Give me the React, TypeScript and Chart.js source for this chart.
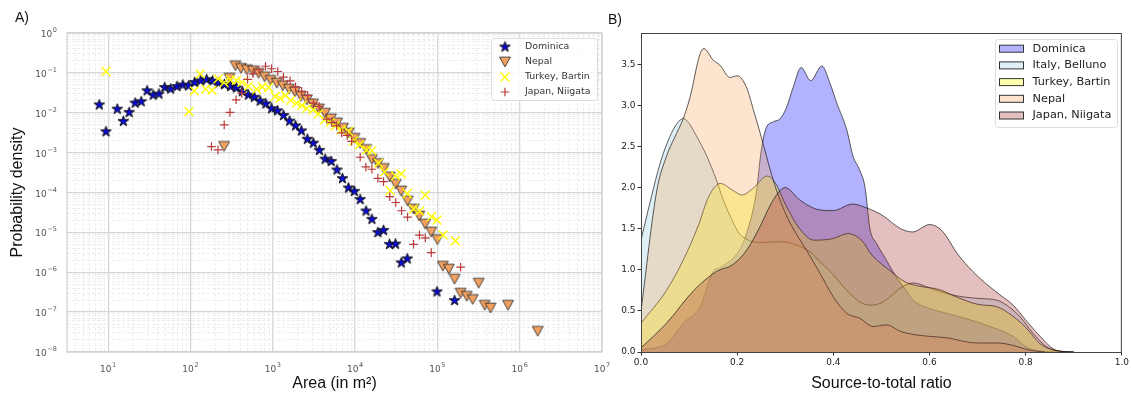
import React, { useEffect, useRef } from 'react';
import { Chart, registerables } from 'chart.js';

Chart.register(...registerables);

// ---------- Panel A: landslide area vs probability density ----------
const dominicaArea = [7.8, 9.4, 12.9, 15.3, 18.0, 21.3, 25.2, 29.7, 35.2, 41.4, 48.7, 57.5, 68.5, 80.6, 95.1, 112.5, 133, 157, 185, 219, 259, 307, 361, 427, 505, 597, 701, 824, 967, 1143, 1352, 1600, 1892, 2228, 2630, 3112, 3681, 4328, 5118, 6022, 7030, 8318, 9795, 11530, 13580, 16000, 18930, 22170, 26220, 31030, 36390, 43050, 98900, 161800];
const dominicaDensity = [0.0158, 0.00335, 0.0123, 0.00608, 0.0102, 0.0175, 0.019, 0.0355, 0.0277, 0.0295, 0.043, 0.0394, 0.0455, 0.0497, 0.0474, 0.0574, 0.0633, 0.0679, 0.0622, 0.0554, 0.0508, 0.0455, 0.0418, 0.0339, 0.0278, 0.0244, 0.0197, 0.0167, 0.0127, 0.0112, 0.00855, 0.00618, 0.00469, 0.00351, 0.00217, 0.00173, 0.00114, 0.000687, 0.000601, 0.000367, 0.000223, 0.00013, 0.000107, 6.67e-5, 3.43e-5, 2.12e-5, 9.9e-6, 1.12e-5, 4.99e-6, 5.08e-6, 1.72e-6, 2.17e-6, 3.22e-7, 1.95e-7];

const nepalArea = [256, 298, 352, 411, 483, 571, 672, 795, 940, 1119, 1324, 1567, 1854, 2193, 2595, 3070, 3632, 4297, 5082, 6012, 7112, 8363, 9834, 11540, 13650, 16010, 18940, 22280, 26350, 31170, 36380, 43420, 51340, 60200, 71200, 84300, 99800, 116400, 137700, 161900, 191500, 226600, 268100, 317000, 375000, 442600, 722800, 1656000];
const nepalDensity = [0.00143, 0.074, 0.151, 0.13, 0.12, 0.113, 0.0977, 0.0798, 0.0652, 0.0554, 0.0474, 0.0392, 0.0335, 0.0258, 0.0211, 0.0167, 0.0125, 0.00977, 0.00703, 0.00557, 0.0041, 0.00313, 0.0023, 0.0017, 0.0012, 0.000675, 0.000535, 0.000401, 0.000245, 0.000162, 0.000109, 6.11e-5, 3.85e-5, 2.57e-5, 1.62e-5, 1.02e-5, 6.59e-6, 1.42e-6, 1.2e-6, 6.71e-7, 2.99e-7, 2.51e-7, 2.07e-7, 5.32e-7, 1.49e-7, 1.27e-7, 1.49e-7, 3.31e-8];

const turkeyArea = [9.38, 95.9, 111.2, 131.5, 153.1, 182.7, 216.2, 255.9, 306.9, 363, 420, 505, 638, 747, 889, 1066, 1227, 1432, 1648, 1950, 2255, 2595, 3093, 3586, 4245, 4979, 5728, 6778, 8318, 9616, 11380, 13840, 16000, 19270, 22800, 26740, 31030, 36390, 43050, 51320, 60720, 71250, 84960, 98880, 117300, 165200];
const turkeyDensity = [0.1097, 0.01072, 0.0355, 0.0938, 0.0394, 0.037, 0.0703, 0.0571, 0.0671, 0.0652, 0.0574, 0.0461, 0.0387, 0.0448, 0.0435, 0.0258, 0.023, 0.0274, 0.0205, 0.0174, 0.0153, 0.0129, 0.0118, 0.00938, 0.00664, 0.00568, 0.00469, 0.00372, 0.00341, 0.00197, 0.00156, 0.00117, 0.00112, 0.000542, 0.000327, 0.000112, 0.00026, 0.000292, 9.44e-5, 3.89e-5, 3.43e-5, 8.55e-5, 2.47e-5, 2.04e-5, 8.65e-6, 6.15e-6];

const japanArea = [180, 216, 257, 302, 358, 420, 494, 575, 681, 817, 966, 1150, 1346, 1624, 1892, 2240, 2649, 3119, 3658, 4538, 5222, 5973, 6873, 8015, 9093, 11540, 13530, 16000, 18930, 22170, 26370, 31200, 36700, 43420, 51340, 60570, 71250, 84330, 191400];
const japanDensity = [0.00142, 0.00117, 0.00497, 0.01023, 0.0211, 0.0307, 0.0691, 0.0949, 0.1197, 0.1466, 0.1268, 0.1084, 0.0784, 0.0633, 0.0448, 0.0345, 0.0274, 0.0174, 0.0145, 0.0069, 0.00567, 0.00469, 0.00313, 0.0027, 0.00191, 0.000766, 0.000437, 0.000383, 0.000227, 0.000187, 7.84e-5, 5.61e-5, 3.49e-5, 2.42e-5, 5.02e-6, 8.55e-6, 7.28e-6, 3.11e-6, 1.34e-6];

// decade exponents labelled on the log axes
const areaExponents = [1, 2, 3, 4, 5, 6, 7];
const densityExponents = [-8, -7, -6, -5, -4, -3, -2, -1, 0];

// ---------- Panel B: kernel density of the source-to-total ratio ----------
const dominicaRatio = [0, 0.03, 0.053, 0.088, 0.123, 0.15, 0.165, 0.2, 0.22, 0.24, 0.25, 0.26, 0.275, 0.29, 0.303, 0.317, 0.333, 0.353, 0.376, 0.393, 0.407, 0.428, 0.441, 0.455, 0.466, 0.476, 0.49, 0.51, 0.53, 0.55, 0.566, 0.6, 0.636, 0.68, 0.726, 0.774, 0.8, 0.83, 0.87];
const dominicaKde = [0.03, 0.05, 0.1, 0.35, 0.55, 0.98, 1.03, 1.2, 1.45, 1.95, 2.45, 2.72, 2.8, 2.84, 2.98, 3.23, 3.46, 3.3, 3.48, 3.27, 3.03, 2.7, 2.38, 2.21, 2.0, 1.5, 1.32, 1.12, 0.92, 0.76, 0.63, 0.53, 0.47, 0.4, 0.31, 0.19, 0.065, 0.01, 0];

const italyRatio = [0, 0.02, 0.04, 0.06, 0.075, 0.088, 0.1, 0.116, 0.137, 0.157, 0.171, 0.192, 0.202, 0.22, 0.247, 0.275, 0.296, 0.324, 0.351, 0.372, 0.4, 0.428, 0.455, 0.476, 0.497, 0.518, 0.538, 0.566, 0.6, 0.636, 0.67, 0.705, 0.74, 0.76, 0.788, 0.815, 0.843, 0.87, 0.9];
const italyKde = [1.36, 1.85, 2.3, 2.62, 2.78, 2.84, 2.78, 2.62, 2.38, 2.09, 1.85, 1.57, 1.46, 1.37, 1.33, 1.34, 1.34, 1.3, 1.22, 1.1, 0.94, 0.75, 0.61, 0.57, 0.59, 0.67, 0.77, 0.84, 0.78, 0.71, 0.67, 0.65, 0.63, 0.57, 0.43, 0.23, 0.065, 0.01, 0];

const turkeyRatio = [0, 0.053, 0.088, 0.12, 0.14, 0.165, 0.19, 0.21, 0.235, 0.262, 0.28, 0.3, 0.33, 0.36, 0.4, 0.43, 0.46, 0.48, 0.52, 0.55, 0.58, 0.62, 0.66, 0.7, 0.74, 0.77, 0.8, 0.83, 0.86, 0.9];
const turkeyKde = [0.35, 0.75, 1.12, 1.55, 1.88, 2.05, 1.97, 1.91, 2.0, 2.14, 2.05, 1.8, 1.5, 1.36, 1.38, 1.44, 1.35, 1.18, 0.98, 0.85, 0.8, 0.76, 0.66, 0.58, 0.55, 0.45, 0.3, 0.1, 0.02, 0];

const nepalRatio = [0, 0.033, 0.053, 0.074, 0.088, 0.102, 0.123, 0.131, 0.15, 0.164, 0.185, 0.2, 0.22, 0.234, 0.248, 0.261, 0.275, 0.289, 0.31, 0.344, 0.372, 0.4, 0.428, 0.455, 0.483, 0.51, 0.54, 0.57, 0.6, 0.64, 0.67, 0.7, 0.74, 0.77, 0.81, 0.84];
const nepalKde = [0.5, 1.97, 2.38, 2.66, 2.84, 3.1, 3.63, 3.69, 3.55, 3.49, 3.34, 3.36, 3.21, 2.94, 2.66, 2.38, 2.09, 1.85, 1.57, 1.24, 0.96, 0.67, 0.47, 0.41, 0.31, 0.33, 0.25, 0.21, 0.19, 0.17, 0.13, 0.11, 0.11, 0.085, 0.02, 0];

const japanRatio = [0, 0.053, 0.11, 0.157, 0.19, 0.22, 0.247, 0.275, 0.3, 0.33, 0.37, 0.4, 0.44, 0.47, 0.5, 0.54, 0.565, 0.6, 0.625, 0.66, 0.69, 0.726, 0.75, 0.774, 0.8, 0.83, 0.857, 0.88, 0.9];
const japanKde = [0.05, 0.35, 0.75, 0.98, 1.06, 1.24, 1.52, 1.85, 2.0, 1.85, 1.73, 1.72, 1.8, 1.75, 1.67, 1.5, 1.46, 1.55, 1.48, 1.18, 0.98, 0.79, 0.68, 0.57, 0.39, 0.19, 0.04, 0.005, 0];

const SANS = '"Liberation Sans", Arial, sans-serif';
const DEJAVU = '"DejaVu Sans", sans-serif';

function isDecade(v: number) {
  const e = Math.log10(v);
  return Math.abs(e - Math.round(e)) < 1e-6;
}

// 1..9 x 10^n between lo and hi, so every minor log line gets a grid line
function logGridTicks(lo: number, hi: number) {
  const out: { value: number }[] = [];
  for (let d = Math.floor(Math.log10(lo)); d <= Math.ceil(Math.log10(hi)); d++) {
    for (let m = 1; m < 10; m++) {
      const v = m * Math.pow(10, d);
      if (v >= lo * 0.9999 && v <= hi * 1.0001) out.push({ value: v });
    }
  }
  return out;
}

// "10" with a raised, smaller exponent; align is the anchor of the whole label
function drawPower(ctx: CanvasRenderingContext2D, x: number, baseline: number, exp: number, align: 'center' | 'right') {
  const base = '10';
  const sup = exp < 0 ? '\u2212' + Math.abs(exp) : String(exp);
  const baseFont = '9px ' + DEJAVU;
  const supFont = '6.5px ' + DEJAVU;
  ctx.font = baseFont;
  const wb = ctx.measureText(base).width;
  ctx.font = supFont;
  const ws = ctx.measureText(sup).width;
  const gap = 0.6;
  const total = wb + gap + ws;
  const left = align === 'center' ? x - total / 2 : x - total;
  ctx.textAlign = 'left';
  ctx.textBaseline = 'alphabetic';
  ctx.font = baseFont;
  ctx.fillText(base, left, baseline);
  ctx.font = supFont;
  ctx.fillText(sup, left + wb + gap, baseline - 5);
}

function starMarker(fill: string, edge: string, outer: number) {
  const size = Math.ceil(outer * 2 + 3);
  const c = document.createElement('canvas');
  c.width = size;
  c.height = size;
  const g = c.getContext('2d')!;
  const cx = size / 2;
  const cy = size / 2;
  const inner = outer * 0.382;
  g.beginPath();
  for (let k = 0; k < 10; k++) {
    const a = -Math.PI / 2 + (k * Math.PI) / 5;
    const r = k % 2 === 0 ? outer : inner;
    const px = cx + r * Math.cos(a);
    const py = cy + r * Math.sin(a);
    if (k === 0) g.moveTo(px, py);
    else g.lineTo(px, py);
  }
  g.closePath();
  g.fillStyle = fill;
  g.fill();
  g.lineWidth = 1;
  g.strokeStyle = edge;
  g.stroke();
  return c;
}

function triangleDownMarker(fill: string, edge: string, half: number) {
  const size = Math.ceil(half * 2 + 3);
  const c = document.createElement('canvas');
  c.width = size;
  c.height = size;
  const g = c.getContext('2d')!;
  const cx = size / 2;
  const cy = size / 2;
  g.beginPath();
  g.moveTo(cx - half, cy - half * 0.9);
  g.lineTo(cx + half, cy - half * 0.9);
  g.lineTo(cx, cy + half * 0.9);
  g.closePath();
  g.fillStyle = fill;
  g.fill();
  g.lineWidth = 0.9;
  g.strokeStyle = edge;
  g.stroke();
  return c;
}

function roundedBox(ctx: CanvasRenderingContext2D, x: number, y: number, w: number, h: number, r: number) {
  ctx.beginPath();
  ctx.moveTo(x + r, y);
  ctx.lineTo(x + w - r, y);
  ctx.arcTo(x + w, y, x + w, y + r, r);
  ctx.lineTo(x + w, y + h - r);
  ctx.arcTo(x + w, y + h, x + w - r, y + h, r);
  ctx.lineTo(x + r, y + h);
  ctx.arcTo(x, y + h, x, y + h - r, r);
  ctx.lineTo(x, y + r);
  ctx.arcTo(x, y, x + r, y, r);
  ctx.closePath();
}

export default function App() {
  const areaRef = useRef<HTMLCanvasElement>(null);
  const ratioRef = useRef<HTMLCanvasElement>(null);

  useEffect(() => {
    const star = starMarker('#0a0ad8', '#111111', 5.6);
    const tri = triangleDownMarker('#f4a05e', '#333333', 5.4);

    const areaSeries = [
      { label: 'Dominica', x: dominicaArea, y: dominicaDensity, style: star as any, radius: 6, color: '#0a0ad8', width: 1 },
      { label: 'Nepal', x: nepalArea, y: nepalDensity, style: tri as any, radius: 6, color: '#f4a05e', width: 1 },
      { label: 'Turkey, Bartin', x: turkeyArea, y: turkeyDensity, style: 'crossRot', radius: 6.2, color: '#ffff00', width: 1.4 },
      { label: 'Japan, Niigata', x: japanArea, y: japanDensity, style: 'cross', radius: 4.3, color: '#b93a3a', width: 1.2 },
    ];

    const gridMajor = '#d5d5d5';
    const gridMinor = '#e9e9e9';
    const majorOf = (c: any) => !!(c && c.tick && isDecade(c.tick.value));

    const areaFrame = {
      id: 'areaFrame',
      beforeDatasetsDraw(chart: any) {
        const { ctx, chartArea: a } = chart;
        ctx.save();
        ctx.strokeStyle = '#cfcfcf';
        ctx.lineWidth = 1.2;
        ctx.strokeRect(a.left, a.top, a.right - a.left, a.bottom - a.top);
        ctx.restore();
      },
    };

    const areaTickLabels = {
      id: 'areaTickLabels',
      afterDraw(chart: any) {
        const { ctx, scales } = chart;
        ctx.save();
        ctx.fillStyle = '#555555';
        areaExponents.forEach((e) => {
          drawPower(ctx, scales.x.getPixelForValue(Math.pow(10, e)), 372, e, 'center');
        });
        densityExponents.forEach((e) => {
          drawPower(ctx, 57, scales.y.getPixelForValue(Math.pow(10, e)) + 4, e, 'right');
        });
        ctx.restore();
      },
    };

    const areaLegend = {
      id: 'areaLegend',
      afterDraw(chart: any) {
        const { ctx } = chart;
        ctx.save();
        roundedBox(ctx, 491.5, 38.5, 106, 62, 3);
        ctx.fillStyle = 'rgba(255,255,255,0.85)';
        ctx.fill();
        ctx.strokeStyle = '#dddddd';
        ctx.lineWidth = 1;
        ctx.stroke();
        areaSeries.forEach((s, i) => {
          const y = 47 + i * 15;
          const x = 505;
          if (typeof s.style !== 'string') {
            ctx.drawImage(s.style, x - s.style.width / 2, y - s.style.height / 2);
          } else {
            ctx.strokeStyle = s.color;
            ctx.lineWidth = s.width;
            ctx.beginPath();
            if (s.style === 'crossRot') {
              const d = s.radius * Math.SQRT1_2;
              ctx.moveTo(x - d, y - d); ctx.lineTo(x + d, y + d);
              ctx.moveTo(x - d, y + d); ctx.lineTo(x + d, y - d);
            } else {
              ctx.moveTo(x - s.radius, y); ctx.lineTo(x + s.radius, y);
              ctx.moveTo(x, y - s.radius); ctx.lineTo(x, y + s.radius);
            }
            ctx.stroke();
          }
          ctx.fillStyle = '#333333';
          ctx.font = '9.4px ' + DEJAVU;
          ctx.textBaseline = 'middle';
          ctx.textAlign = 'left';
          ctx.fillText(s.label, 525, y);
        });
        ctx.restore();
      },
    };

    const logGrid = (lo: number, hi: number, size: 'width' | 'height', px: number) => ({
      type: 'logarithmic',
      min: lo,
      max: hi,
      afterBuildTicks: (scale: any) => { scale.ticks = logGridTicks(lo, hi); },
      afterFit: (scale: any) => { scale[size] = px; },
      ticks: { display: false, autoSkip: false },
      grid: {
        drawTicks: false,
        color: (c: any) => (majorOf(c) ? gridMajor : gridMinor),
        lineWidth: (c: any) => (majorOf(c) ? 1.3 : 0.8),
      },
      border: { display: false, dash: (c: any) => (majorOf(c) ? [] : [3, 2]) },
    });

    const areaChart = new Chart(areaRef.current!, {
      type: 'scatter',
      data: {
        datasets: areaSeries.map((s, i) => ({
          label: s.label,
          data: s.x.map((v, j) => ({ x: v, y: s.y[j] })),
          pointStyle: s.style,
          pointRadius: s.radius,
          pointHoverRadius: s.radius,
          pointBackgroundColor: s.color,
          pointBorderColor: s.color,
          pointBorderWidth: s.width,
          showLine: false,
          order: areaSeries.length - i,
        })),
      },
      options: {
        animation: false,
        responsive: false,
        events: [],
        layout: { padding: { left: 0, top: 33, right: 8, bottom: 0 } },
        plugins: { legend: { display: false }, tooltip: { enabled: false } },
        scales: {
          x: {
            ...logGrid(Math.pow(10, 0.5), 1e7, 'height', 47),
            title: { display: true, text: 'Area (in m²)', color: '#111111', font: { family: SANS, size: 16 }, padding: { top: 0, bottom: 6 } },
          },
          y: {
            ...logGrid(1e-8, 1, 'width', 67),
            title: { display: true, text: 'Probability density', color: '#111111', font: { family: SANS, size: 16 }, padding: { top: 8, bottom: 0 } },
          },
        },
      } as any,
      plugins: [areaFrame, areaTickLabels, areaLegend],
    });

    const kdeSeries = [
      { label: 'Dominica', x: dominicaRatio, y: dominicaKde, fill: 'rgba(0,0,255,0.3)' },
      { label: 'Italy, Belluno', x: italyRatio, y: italyKde, fill: 'rgba(173,216,230,0.4)' },
      { label: 'Turkey, Bartin', x: turkeyRatio, y: turkeyKde, fill: 'rgba(255,255,0,0.33)' },
      { label: 'Nepal', x: nepalRatio, y: nepalKde, fill: 'rgba(244,164,96,0.3)' },
      { label: 'Japan, Niigata', x: japanRatio, y: japanKde, fill: 'rgba(165,42,42,0.3)' },
    ];

    const ratioFrame = {
      id: 'ratioFrame',
      afterDatasetsDraw(chart: any) {
        const { ctx, chartArea: a } = chart;
        ctx.save();
        ctx.strokeStyle = '#444444';
        ctx.lineWidth = 1;
        ctx.strokeRect(a.left + 0.5, a.top + 0.5, a.right - a.left - 1, a.bottom - a.top);
        ctx.restore();
      },
    };

    const ratioLegend = {
      id: 'ratioLegend',
      afterDraw(chart: any) {
        const { ctx } = chart;
        const ox = 995.5 - 610;
        ctx.save();
        roundedBox(ctx, ox, 39.5, 122, 88, 3);
        ctx.fillStyle = 'rgba(255,255,255,0.85)';
        ctx.fill();
        ctx.strokeStyle = '#dddddd';
        ctx.lineWidth = 1;
        ctx.stroke();
        kdeSeries.forEach((s, i) => {
          const y = 48.7 + i * 16.7;
          ctx.fillStyle = '#ffffff';
          ctx.fillRect(ox + 4, y - 3.5, 24, 7);
          ctx.fillStyle = s.fill;
          ctx.fillRect(ox + 4, y - 3.5, 24, 7);
          ctx.strokeStyle = '#333333';
          ctx.lineWidth = 1;
          ctx.strokeRect(ox + 4, y - 3.5, 24, 7);
          ctx.fillStyle = '#222222';
          ctx.font = '11.3px ' + DEJAVU;
          ctx.textBaseline = 'middle';
          ctx.textAlign = 'left';
          ctx.fillText(s.label, ox + 37, y);
        });
        ctx.restore();
      },
    };

    const ratioChart = new Chart(ratioRef.current!, {
      type: 'line',
      data: {
        datasets: kdeSeries.map((s, i) => ({
          label: s.label,
          data: s.x.map((v, j) => ({ x: v, y: s.y[j] })),
          fill: 'origin',
          backgroundColor: s.fill,
          borderColor: 'rgba(20,20,20,0.85)',
          borderWidth: 0.8,
          pointRadius: 0,
          cubicInterpolationMode: 'monotone',
          order: kdeSeries.length - i,
        })),
      },
      options: {
        animation: false,
        responsive: false,
        events: [],
        layout: { padding: { left: 0, top: 33, right: 9, bottom: 0 } },
        plugins: { legend: { display: false }, tooltip: { enabled: false } },
        scales: {
          x: {
            type: 'linear',
            min: 0,
            max: 1,
            afterFit: (scale: any) => { scale.height = 47; },
            ticks: {
              stepSize: 0.2,
              padding: 2,
              color: '#222222',
              font: { family: DEJAVU, size: 9 },
              callback: (v: any) => Number(v).toFixed(1),
            },
            grid: { drawOnChartArea: false, drawTicks: true, tickLength: 3.5, tickColor: '#333333' },
            border: { display: false },
            title: { display: true, text: 'Source-to-total ratio', color: '#111111', font: { family: SANS, size: 16 }, padding: { top: 0, bottom: 6 } },
          },
          y: {
            type: 'linear',
            min: 0,
            max: 3.88,
            afterFit: (scale: any) => { scale.width = 31; },
            ticks: {
              stepSize: 0.5,
              includeBounds: false,
              padding: 2,
              color: '#222222',
              font: { family: DEJAVU, size: 9 },
              callback: (v: any) => Number(v).toFixed(1),
            },
            grid: { drawOnChartArea: false, drawTicks: true, tickLength: 3.5, tickColor: '#333333' },
            border: { display: false },
          },
        },
      } as any,
      plugins: [ratioFrame, ratioLegend],
    });

    return () => {
      areaChart.destroy();
      ratioChart.destroy();
    };
  }, []);

  return (
    <div style={{ position: 'absolute', left: 0, top: 0, width: 1131, height: 399, background: '#ffffff', overflow: 'hidden' }}>
      <canvas ref={areaRef} width={610} height={399} style={{ position: 'absolute', left: 0, top: 0 }} />
      <canvas ref={ratioRef} width={521} height={399} style={{ position: 'absolute', left: 610, top: 0 }} />
      <div style={{ position: 'absolute', left: 15, top: 9, font: '14px ' + SANS, color: '#111111', lineHeight: 'normal' }}>A)</div>
      <div style={{ position: 'absolute', left: 608, top: 11, font: '14px ' + SANS, color: '#111111', lineHeight: 'normal' }}>B)</div>
    </div>
  );
}
